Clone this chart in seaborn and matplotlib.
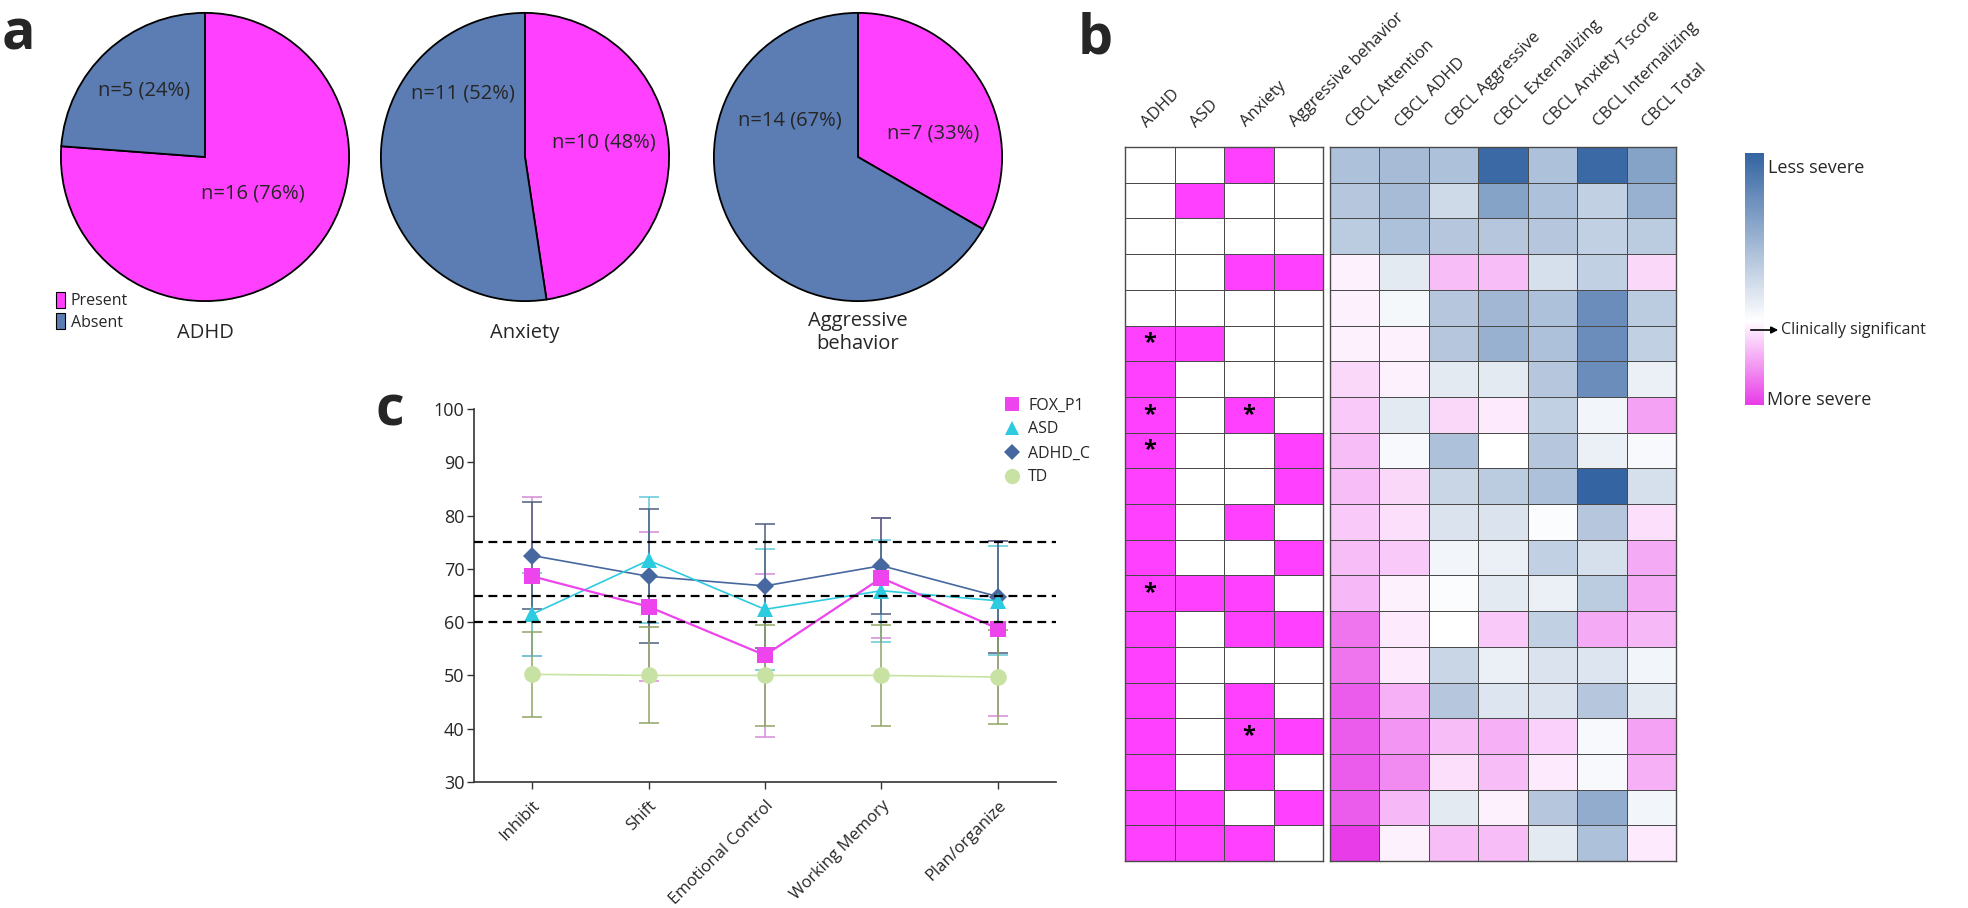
import numpy as np
import pandas as pd
import matplotlib
matplotlib.use('Agg')
import matplotlib.pyplot as plt
import seaborn as sns
from matplotlib.colors import LinearSegmentedColormap, ListedColormap
from matplotlib.patches import Patch, FancyArrowPatch
from matplotlib.lines import Line2D

# ---- panel a: pies
pie_titles = ['ADHD', 'Anxiety', 'Aggressive\nbehavior']
present_n = [16, 10, 7]
absent_n = [5, 11, 14]
present_pct = [76, 48, 33]
absent_pct = [24, 52, 67]

# ---- panel c: BRIEF domains
domains = ['Inhibit', 'Shift', 'Emotional Control', 'Working Memory', 'Plan/organize']
groups = ['FOX_P1', 'ASD', 'ADHD_C', 'TD']
fox_mean = [68.6, 62.9, 53.8, 68.3, 58.8]
fox_sd = [14.9, 14.0, 15.3, 11.2, 16.4]
asd_mean = [61.5, 71.6, 62.4, 65.9, 64.0]
asd_sd = [7.8, 11.8, 11.4, 9.6, 10.2]
adhd_mean = [72.5, 68.6, 66.8, 70.6, 64.8]
adhd_sd = [10.0, 12.6, 11.7, 9.0, 10.5]
td_mean = [50.2, 50.0, 50.0, 50.0, 49.7]
td_sd = [8.0, 9.0, 9.5, 9.5, 8.8]
cutoffs = [75, 65, 60]

# ---- panel b: per-subject diagnoses and CBCL T-scores
diag_cols = ['ADHD', 'ASD', 'Anxiety', 'Aggressive behavior']
diag = [
    [0, 0, 1, 0], [0, 1, 0, 0], [0, 0, 0, 0], [0, 0, 1, 1], [0, 0, 0, 0],
    [1, 1, 0, 0], [1, 0, 0, 0], [1, 0, 1, 0], [1, 0, 0, 1], [1, 0, 0, 1],
    [1, 0, 1, 0], [1, 0, 0, 1], [1, 1, 1, 0], [1, 0, 1, 1], [1, 0, 0, 0],
    [1, 0, 1, 0], [1, 0, 1, 1], [1, 0, 1, 0], [1, 1, 0, 1], [1, 1, 1, 0],
]
star_cells = [(5, 0), (7, 0), (7, 2), (8, 0), (12, 0), (16, 2)]
cbcl_cols = ['CBCL Attention', 'CBCL ADHD', 'CBCL Aggressive', 'CBCL Externalizing',
             'CBCL Anxiety Tscore', 'CBCL Internalizing', 'CBCL Total']
cbcl = [
    [53, 52, 53, 36, 53, 36, 47],
    [54, 52, 58, 47, 53, 56, 50],
    [55, 53, 54, 54, 54, 56, 55],
    [66, 61, 70, 70, 59, 56, 68],
    [66, 63.5, 54, 51, 53, 43, 55],
    [66, 66, 54, 50, 53, 43, 56],
    [68, 66, 61, 61, 54, 43, 62],
    [69, 61, 68, 66.5, 56, 63, 72],
    [70, 64, 53, 65, 54, 62, 64],
    [70, 68, 57, 55, 53, 35, 59],
    [69, 67.5, 59.5, 59.5, 64.5, 54, 67.5],
    [70, 69, 63, 62, 56, 59, 71.5],
    [70.5, 66, 64.5, 61, 62, 55, 71.5],
    [75.5, 66.5, 65, 69, 56, 71.5, 70.5],
    [75.5, 66.5, 57, 62, 59.5, 60, 63],
    [77.5, 71, 54, 60, 59.5, 54, 61],
    [77.5, 73, 70, 71, 68.5, 64, 72],
    [77.5, 74, 67.5, 70, 66.5, 64, 71],
    [77.5, 70.5, 61, 66, 54, 49, 63],
    [80, 66, 70, 70, 61, 53, 66.5],
]

W, H = 1968, 908
MAG = '#ff40ff'
BLUE = '#5b7db3'
GRID = '#4a4a4a'

sns.set_style('white')
plt.rcParams['font.family'] = ['Open Sans', 'DejaVu Sans']


def rect(x0, y0, x1, y1):
    # pixel box (top-left origin) -> figure axes rect
    return [x0 / W, 1 - y1 / H, (x1 - x0) / W, (y1 - y0) / H]


def fpt(x, y):
    return (x / W, 1 - y / H)


fig = plt.figure(figsize=(W / 100, H / 100), dpi=100)

# ================= a: pies
centers = [205, 525, 858]
r = 147
label_pos = [[(0.33, -0.25), (-0.42, 0.46)],
             [(0.55, 0.10), (-0.43, 0.44)],
             [(0.52, 0.16), (-0.47, 0.25)]]
for i, cx in enumerate(centers):
    ax = fig.add_axes(rect(cx - r, 157 - r, cx + r, 157 + r))
    ax.pie([present_n[i], absent_n[i]], colors=[MAG, BLUE], startangle=90,
           counterclock=False, wedgeprops=dict(edgecolor='black', linewidth=1.3))
    ax.set_xlim(-1.02, 1.02)
    ax.set_ylim(-1.02, 1.02)
    txts = [f'n={present_n[i]} ({present_pct[i]}%)', f'n={absent_n[i]} ({absent_pct[i]}%)']
    for t, (lx, ly) in zip(txts, label_pos[i]):
        ax.text(lx, ly, t, ha='center', va='center', fontsize=14.5)
    ax.text(0, -1.22, pie_titles[i], ha='center', va='center', fontsize=14.5,
            linespacing=1.2)

fig.legend(handles=[Patch(facecolor=MAG, edgecolor='black', lw=0.8),
                    Patch(facecolor=BLUE, edgecolor='black', lw=0.8)],
           labels=['Present', 'Absent'], loc='upper left',
           bbox_to_anchor=fpt(42, 278), frameon=False, fontsize=11.5,
           handlelength=0.55, handleheight=1.1, handletextpad=0.35,
           labelspacing=0.25)

fig.text(*fpt(2, 50), 'a', fontsize=40, fontweight='bold', va='baseline')
fig.text(*fpt(1078, 54), 'b', fontsize=40, fontweight='bold', va='baseline')
fig.text(*fpt(376, 425), 'c', fontsize=40, fontweight='bold', va='baseline')

# ================= c: line chart
rows = []
for g, m, s in zip(groups, [fox_mean, asd_mean, adhd_mean, td_mean],
                   [fox_sd, asd_sd, adhd_sd, td_sd]):
    for d, mv, sv in zip(domains, m, s):
        rows.append(dict(group=g, domain=d, mean=mv, sd=sv))
df = pd.DataFrame(rows)

line_col = {'FOX_P1': '#ee44ee', 'ASD': '#2ccbe0', 'ADHD_C': '#46679f', 'TD': '#c8e2a4'}
err_col = {'FOX_P1': '#d68ad9', 'ASD': '#5fc9d6', 'ADHD_C': '#4f5f80', 'TD': '#8fa565'}
markers = {'FOX_P1': 's', 'ASD': '^', 'ADHD_C': 'D', 'TD': 'o'}
msize = {'FOX_P1': 11, 'ASD': 11, 'ADHD_C': 9, 'TD': 12}

axc = fig.add_axes(rect(474, 409, 1056, 782))
for g in groups:
    sub = df[df.group == g]
    axc.errorbar(np.arange(len(domains)), sub['mean'], yerr=sub['sd'], fmt='none',
                 ecolor=err_col[g], elinewidth=1.1, capsize=7, capthick=1.1, zorder=2)
for g in ['TD', 'ADHD_C', 'ASD', 'FOX_P1']:
    sub = df[df.group == g]
    sns.lineplot(data=sub, x='domain', y='mean', ax=axc, color=line_col[g],
                 marker=markers[g], markersize=msize[g], markeredgewidth=0,
                 linewidth=1.6 if g == 'FOX_P1' else 1.2, sort=False, zorder=3)
for c in cutoffs:
    axc.axhline(c, color='black', ls=(0, (4, 2.5)), lw=1.6, zorder=4)

axc.set_xlim(-0.5, len(domains) - 0.5)
axc.set_ylim(30, 100)
axc.set_yticks(range(30, 101, 10))
axc.set_xticks(range(len(domains)))
axc.set_xticklabels(domains, rotation=45, ha='right', rotation_mode='anchor', fontsize=12)
axc.tick_params(axis='y', labelsize=13, length=5, width=1, color='#333', pad=2, left=True)
axc.tick_params(axis='x', length=5, width=1, color='#333', pad=6, bottom=True)
axc.set_xlabel('')
axc.set_ylabel('')
for sp in ['top', 'right']:
    axc.spines[sp].set_visible(False)
for sp in ['left', 'bottom']:
    axc.spines[sp].set_color('#333')
    axc.spines[sp].set_linewidth(1.2)

handles = [Line2D([], [], ls='none', marker=markers[g], color=line_col[g],
                  markersize=msize[g] - 1, markeredgewidth=0) for g in groups]
axc.legend(handles, groups, loc='upper left', bbox_to_anchor=fpt(990, 383),
           bbox_transform=fig.transFigure, frameon=False, fontsize=11.5,
           handlelength=1.0, handletextpad=0.5, labelspacing=0.5)

# ================= b: heatmaps
diag_df = pd.DataFrame(diag, columns=diag_cols)
annot = np.full(diag_df.shape, '', dtype=object)
for rr, cc in star_cells:
    annot[rr, cc] = '*'

axd = fig.add_axes(rect(1125, 147, 1323, 861))
sns.heatmap(diag_df, ax=axd, cmap=ListedColormap(['white', MAG]), vmin=0, vmax=1,
            cbar=False, linewidths=0.6, linecolor=GRID, annot=annot, fmt='',
            annot_kws=dict(fontsize=17, color='black', fontweight='bold'),
            yticklabels=False)

sev_cmap = LinearSegmentedColormap.from_list(
    'sev', [(0.0, '#3464a2'), (0.667, '#ffffff'), (1.0, '#e83ce8')])
cbcl_df = pd.DataFrame(cbcl, columns=cbcl_cols)
axb = fig.add_axes(rect(1330, 147, 1676, 861))
cax = fig.add_axes(rect(1745, 153, 1764, 405))
sns.heatmap(cbcl_df, ax=axb, cmap=sev_cmap, vmin=35, vmax=80, cbar=True, cbar_ax=cax,
            linewidths=0.6, linecolor=GRID, yticklabels=False)

for a in (axd, axb):
    a.xaxis.tick_top()
    a.set_xticklabels(a.get_xticklabels(), rotation=45, ha='left', va='bottom',
                      rotation_mode='anchor', fontsize=12)
    a.tick_params(axis='x', length=0, pad=12)
    a.set_ylabel('')
    for sp in a.spines.values():
        sp.set_visible(True)
        sp.set_color(GRID)
        sp.set_linewidth(1.0)

cax.invert_yaxis()
cax.set_yticks([])
cax.tick_params(length=0)
for sp in cax.spines.values():
    sp.set_visible(False)

fig.text(*fpt(1768, 168), 'Less severe', fontsize=13, va='center')
fig.text(*fpt(1781, 330), 'Clinically significant', fontsize=11.5, va='center')
fig.text(*fpt(1767, 400), 'More severe', fontsize=13, va='center')
fig.add_artist(FancyArrowPatch(
    fpt(1748, 330), fpt(1781, 330), transform=fig.transFigure,
    arrowstyle='-|>', mutation_scale=10, color='black', lw=1.2))

fig.savefig('out.png', dpi=100)
